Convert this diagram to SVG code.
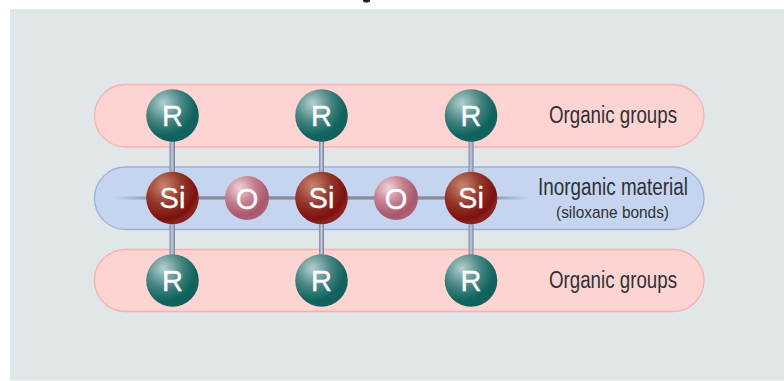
<svg xmlns="http://www.w3.org/2000/svg" width="784" height="381" viewBox="0 0 784 381">
<style>
.pink{fill:#fed4d3;stroke:#fbaeb0;stroke-width:1.3}
.blue{fill:#c5d4ef;stroke:#9fafd8;stroke-width:1.3}
.atom{font-family:"Liberation Sans",Arial,sans-serif;font-size:29px;fill:#fff;stroke:#fff;stroke-width:.35;text-anchor:middle}
.lab{font-family:"Liberation Sans",Arial,sans-serif;fill:#2f3136}
</style>
<defs>
<radialGradient id="gr" cx="0.33" cy="0.27" r="0.72"><stop offset="0" stop-color="#b4d0d0"/><stop offset="0.5" stop-color="#468481"/><stop offset="0.85" stop-color="#0f645f"/><stop offset="1" stop-color="#14605c"/></radialGradient>
<radialGradient id="gs" cx="0.33" cy="0.27" r="0.72"><stop offset="0" stop-color="#c9866e"/><stop offset="0.5" stop-color="#93362a"/><stop offset="0.88" stop-color="#7c110f"/><stop offset="1" stop-color="#8a2320"/></radialGradient>
<radialGradient id="go" cx="0.33" cy="0.27" r="0.72"><stop offset="0" stop-color="#f0d3d8"/><stop offset="0.5" stop-color="#c27e8f"/><stop offset="0.9" stop-color="#a8566c"/><stop offset="1" stop-color="#ab5f74"/></radialGradient>
<linearGradient id="bv" x1="0" x2="1" y1="0" y2="0"><stop offset="0" stop-color="#7d89a6"/><stop offset="0.5" stop-color="#c3cad9"/><stop offset="1" stop-color="#6f7b98"/></linearGradient>
<linearGradient id="bh" x1="0" x2="0" y1="0" y2="1"><stop offset="0" stop-color="#a5adbd"/><stop offset="0.5" stop-color="#7a8294"/><stop offset="1" stop-color="#adb5c6"/></linearGradient>
<linearGradient id="fl" x1="0" x2="1" y1="0" y2="0"><stop offset="0" stop-color="#8a93a8" stop-opacity="0"/><stop offset="1" stop-color="#8a93a8"/></linearGradient>
<linearGradient id="fr" x1="0" x2="1" y1="0" y2="0"><stop offset="0" stop-color="#8a93a8"/><stop offset="1" stop-color="#8a93a8" stop-opacity="0"/></linearGradient>
</defs>
<rect id="background" x="10" y="9" width="774" height="371.500" fill="#e1e6e8"/>
<ellipse id="title-fragment" cx="366.500" cy="0.500" rx="3.500" ry="2" fill="#222"/>
<g id="band-organic-top"><rect class="pink" x="94.500" y="84.500" width="609.500" height="62.500" rx="31.200"/><text class="lab" x="549" y="123" font-size="23.500" textLength="128" lengthAdjust="spacingAndGlyphs">Organic groups</text></g>
<g id="band-inorganic"><rect class="blue" x="94.500" y="167" width="609.500" height="62.500" rx="31.200"/><text class="lab" x="538" y="195" font-size="23" textLength="150" lengthAdjust="spacingAndGlyphs">Inorganic material</text><text class="lab" x="556" y="218" font-size="17" textLength="113" lengthAdjust="spacingAndGlyphs">(siloxane bonds)</text></g>
<g id="band-organic-bottom"><rect class="pink" x="94.500" y="249.500" width="609.500" height="62" rx="31"/><text class="lab" x="549" y="288" font-size="23.500" textLength="128" lengthAdjust="spacingAndGlyphs">Organic groups</text></g>
<g id="connectors">
<rect x="169.500" y="140" width="5.500" height="120" fill="url(#bv)"/>
<rect x="319" y="140" width="5" height="120" fill="url(#bv)"/>
<rect x="468.500" y="140" width="5" height="120" fill="url(#bv)"/>
<rect x="172" y="196" width="299" height="4" fill="url(#bh)"/>
<rect x="114" y="196.500" width="40" height="3" fill="url(#fl)"/>
<rect x="490" y="196.500" width="38" height="3" fill="url(#fr)"/>
</g>
<g id="r1"><circle cx="172.500" cy="115.500" r="26.300" fill="url(#gr)"/><text class="atom" x="172.500" y="126">R</text></g>
<g id="r2"><circle cx="321.500" cy="115.500" r="26.300" fill="url(#gr)"/><text class="atom" x="321.500" y="126">R</text></g>
<g id="r3"><circle cx="471" cy="115.500" r="26.300" fill="url(#gr)"/><text class="atom" x="471" y="126">R</text></g>
<g id="si1"><circle cx="172.500" cy="198" r="26.300" fill="url(#gs)"/><text class="atom" x="172.500" y="208">Si</text></g>
<g id="o1"><circle cx="247" cy="198" r="22" fill="url(#go)"/><text class="atom" x="247" y="208.500">O</text></g>
<g id="si2"><circle cx="321.500" cy="198" r="26.300" fill="url(#gs)"/><text class="atom" x="321.500" y="208">Si</text></g>
<g id="o2"><circle cx="396" cy="198" r="22" fill="url(#go)"/><text class="atom" x="396" y="208.500">O</text></g>
<g id="si3"><circle cx="471" cy="198" r="26.300" fill="url(#gs)"/><text class="atom" x="471" y="208">Si</text></g>
<g id="r4"><circle cx="172.500" cy="280.500" r="26.300" fill="url(#gr)"/><text class="atom" x="172.500" y="291">R</text></g>
<g id="r5"><circle cx="321.500" cy="280.500" r="26.300" fill="url(#gr)"/><text class="atom" x="321.500" y="291">R</text></g>
<g id="r6"><circle cx="471" cy="280.500" r="26.300" fill="url(#gr)"/><text class="atom" x="471" y="291">R</text></g>
</svg>
